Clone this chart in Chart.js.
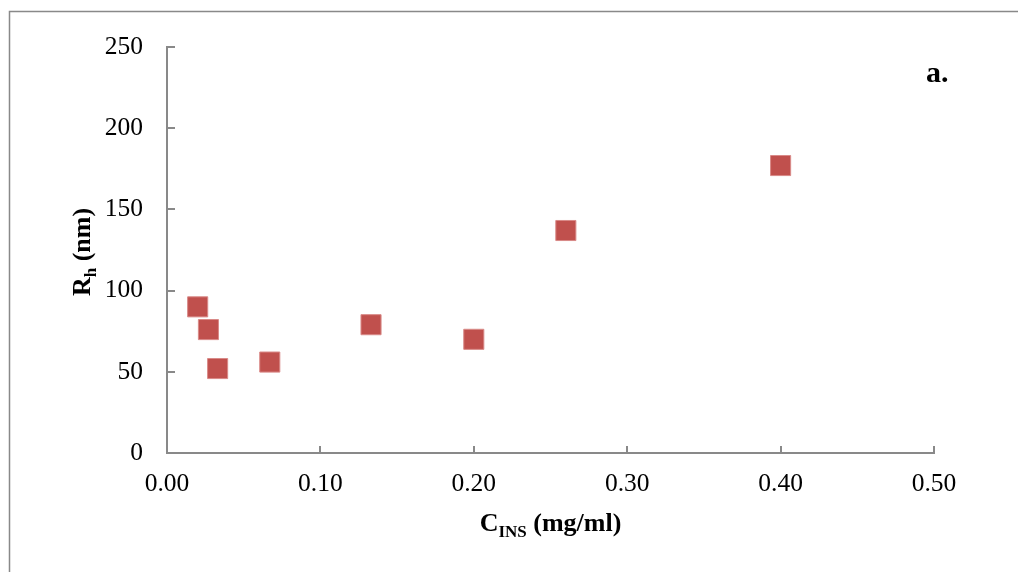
<!DOCTYPE html>
<html>
<head>
<meta charset="utf-8">
<script src="https://cdn.jsdelivr.net/npm/chart.js@4.4.0/dist/chart.umd.min.js"></script>
<style>
  html, body { margin: 0; padding: 0; background: #fff; }
  #wrap { width: 1018px; height: 572px; position: relative; }
</style>
</head>
<body>
<div id="wrap"><canvas id="rhChart" width="1018" height="572"></canvas></div>
<script>
// ===== data =====
const concentration = [0.020, 0.027, 0.033, 0.067, 0.133, 0.200, 0.260, 0.400]; // mg/ml
const radius = [90, 76, 52, 56, 79, 70, 137, 177]; // nm
const xTicks = [0, 0.1, 0.2, 0.3, 0.4, 0.5];
const yTicks = [0, 50, 100, 150, 200, 250];

const AXIS_GREY = "#898989";
const SERIF = "'Liberation Serif', 'Times New Roman', serif";

// frame, inward ticks, axis titles with subscripts, panel tag
const decorations = {
    id: "decorations",
    beforeDraw(chart) {
        const ctx = chart.ctx;
        ctx.save();
        ctx.strokeStyle = AXIS_GREY;
        ctx.lineWidth = 1.5;
        ctx.beginPath();
        ctx.moveTo(9.5, 580);
        ctx.lineTo(9.5, 11.5);
        ctx.lineTo(1030, 11.5);
        ctx.stroke();
        ctx.restore();
    },
    afterDraw(chart) {
        const ctx = chart.ctx;
        const x = chart.scales.x;
        const y = chart.scales.y;
        const area = chart.chartArea;
        ctx.save();
        ctx.strokeStyle = AXIS_GREY;
        ctx.lineWidth = 2;
        ctx.beginPath();
        yTicks.forEach(v => {
            if (v === 0) return;
            const py = Math.round(y.getPixelForValue(v));
            ctx.moveTo(area.left, py);
            ctx.lineTo(area.left + 8, py);
        });
        xTicks.forEach(v => {
            if (v === 0) return;
            const px = Math.round(x.getPixelForValue(v));
            ctx.moveTo(px, area.bottom);
            ctx.lineTo(px, area.bottom - 7);
        });
        ctx.stroke();

        ctx.fillStyle = "#000";
        ctx.textBaseline = "alphabetic";

        // x title: C_INS (mg/ml)
        const big = "bold 26px " + SERIF;
        const small = "bold 17px " + SERIF;
        ctx.font = big;
        const wC = ctx.measureText("C").width;
        const wRest = ctx.measureText(" (mg/ml)").width;
        ctx.font = small;
        const wSub = ctx.measureText("INS").width;
        let sx = (area.left + area.right) / 2 - (wC + wSub + wRest) / 2;
        const by = 531;
        ctx.font = big;
        ctx.fillText("C", sx, by);
        ctx.font = small;
        ctx.fillText("INS", sx + wC, by + 6);
        ctx.font = big;
        ctx.fillText(" (mg/ml)", sx + wC + wSub, by);

        // y title: R_h (nm), rotated
        ctx.save();
        ctx.translate(90, 252);
        ctx.rotate(-Math.PI / 2);
        ctx.font = big;
        const wR = ctx.measureText("R").width;
        const wNm = ctx.measureText(" (nm)").width;
        ctx.font = small;
        const wH = ctx.measureText("h").width;
        const start = -(wR + wH + wNm) / 2;
        ctx.font = big;
        ctx.fillText("R", start, 0);
        ctx.font = small;
        ctx.fillText("h", start + wR, 6);
        ctx.font = big;
        ctx.fillText(" (nm)", start + wR + wH, 0);
        ctx.restore();

        // panel tag
        ctx.font = "bold 30px " + SERIF;
        ctx.fillText("a.", 926, 82);
        ctx.restore();
    }
};

new Chart(document.getElementById("rhChart"), {
    type: "scatter",
    data: {
        datasets: [{
            data: concentration.map((c, i) => ({ x: c, y: radius[i] })),
            pointStyle: "rect",
            pointRadius: 14.2,
            pointHoverRadius: 14.2,
            backgroundColor: "#C0504D",
            borderColor: "#D98A88",
            borderWidth: 1
        }]
    },
    options: {
        responsive: false,
        animation: false,
        events: [],
        layout: { padding: { left: 0, right: 84, top: 47, bottom: 0 } },
        plugins: {
            legend: { display: false },
            tooltip: { enabled: false }
        },
        scales: {
            x: {
                type: "linear",
                min: 0,
                max: 0.5,
                afterBuildTicks: s => { s.ticks = xTicks.map(v => ({ value: v })); },
                afterFit: s => { s.height = 572 - 453; },
                grid: { display: false, drawTicks: false },
                border: { display: true, color: AXIS_GREY, width: 2 },
                ticks: {
                    color: "#000",
                    padding: 16,
                    maxRotation: 0,
                    font: { family: SERIF, size: 25.5 },
                    callback: v => v.toFixed(2)
                }
            },
            y: {
                type: "linear",
                min: 0,
                max: 250,
                afterBuildTicks: s => { s.ticks = yTicks.map(v => ({ value: v })); },
                afterFit: s => { s.width = 167; },
                grid: { display: false, drawTicks: false },
                border: { display: true, color: AXIS_GREY, width: 2 },
                ticks: {
                    color: "#000",
                    padding: 24,
                    font: { family: SERIF, size: 25.5 }
                }
            }
        }
    },
    plugins: [decorations]
});
</script>
</body>
</html>
